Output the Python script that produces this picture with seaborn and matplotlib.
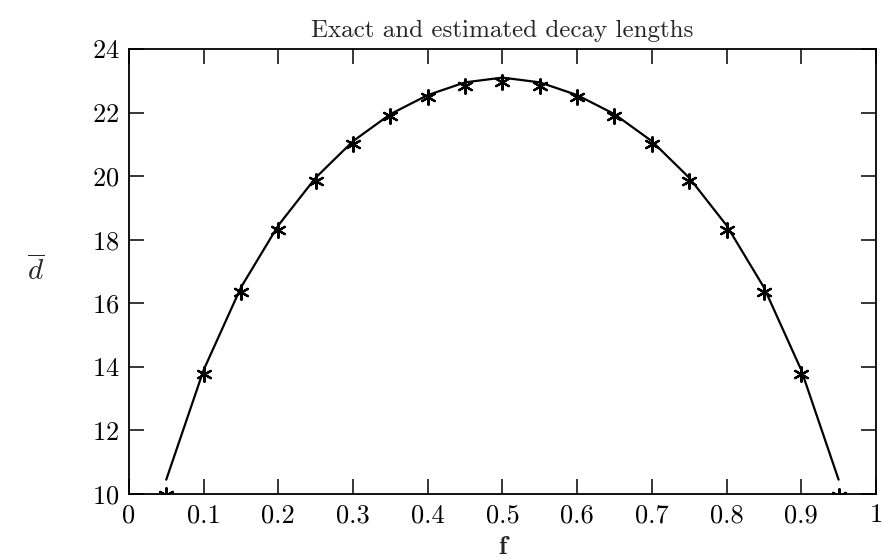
import numpy as np
import pandas as pd
import matplotlib
matplotlib.use("Agg")
import matplotlib.pyplot as plt
import seaborn as sns

# fraction f, exact decay length (line) and estimated one (stars)
f_vals = [0.05, 0.10, 0.15, 0.20, 0.25, 0.30, 0.35, 0.40, 0.45, 0.50,
          0.55, 0.60, 0.65, 0.70, 0.75, 0.80, 0.85, 0.90, 0.95]
exact_d = [10.45, 13.9, 16.5, 18.45, 19.95, 21.1, 21.95, 22.55, 22.95, 23.1,
           22.95, 22.55, 21.95, 21.1, 19.95, 18.45, 16.5, 13.9, 10.45]
estimated_d = [9.98, 13.78, 16.35, 18.3, 19.85, 21.0, 21.88, 22.48, 22.85, 22.97,
               22.85, 22.48, 21.88, 21.0, 19.85, 18.3, 16.35, 13.78, 9.95]

x_ticks = [0, 0.1, 0.2, 0.3, 0.4, 0.5, 0.6, 0.7, 0.8, 0.9, 1]
x_tick_labels = ["0", "0.1", "0.2", "0.3", "0.4", "0.5", "0.6", "0.7", "0.8", "0.9", "1"]
y_ticks = [10, 12, 14, 16, 18, 20, 22, 24]

df = pd.DataFrame({"f": f_vals, "exact": exact_d, "estimated": estimated_d})

sns.set_style("ticks")
plt.rcParams["font.family"] = ["cmr10", "DejaVu Serif"]
plt.rcParams["mathtext.fontset"] = "cm"
plt.rcParams["axes.formatter.use_mathtext"] = True

fig = plt.figure(figsize=(8.83, 5.6), dpi=100)
ax = fig.add_axes([0.146, 0.118, 0.846, 0.7945])

sns.lineplot(data=df, x="f", y="exact", ax=ax, color="black", linewidth=1.6)
sns.scatterplot(data=df, x="f", y="estimated", ax=ax, color="black",
                marker=(6, 2, 0), s=110, linewidth=1.6, edgecolor="black", zorder=3)

ax.set_xlim(0, 1)
ax.set_ylim(10, 24)
ax.set_xticks(x_ticks)
ax.set_xticklabels(x_tick_labels)
ax.set_yticks(y_ticks)
ax.tick_params(direction="in", length=11, width=1.1, top=True, right=True,
               labelsize=19, pad=7, colors="black")
for sp in ax.spines.values():
    sp.set_linewidth(1.3)
    sp.set_color("black")

ax.set_title("Exact and estimated decay lengths", fontsize=18, pad=9)
ax.set_xlabel("f", fontsize=19, fontfamily="cmb10", labelpad=6)
ax.set_ylabel(r"$\overline{d}$", fontsize=21, rotation=0, labelpad=40, va="center")

fig.savefig("out.png", dpi=100)
